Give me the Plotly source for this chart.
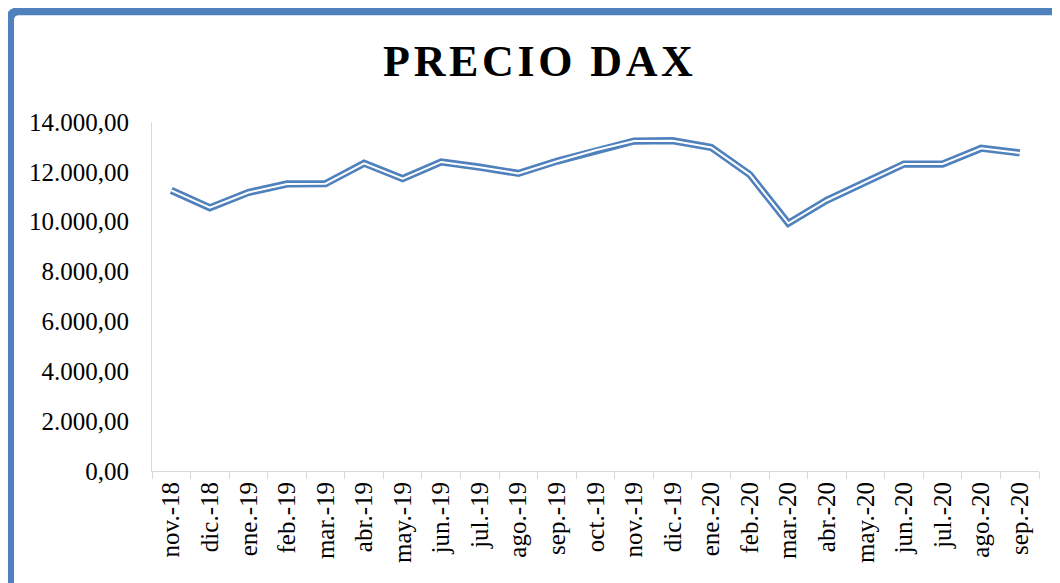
import plotly.graph_objects as go

categories = ["nov.-18", "dic.-18", "ene.-19", "feb.-19", "mar.-19", "abr.-19", "may.-19",
              "jun.-19", "jul.-19", "ago.-19", "sep.-19", "oct.-19", "nov.-19", "dic.-19",
              "ene.-20", "feb.-20", "mar.-20", "abr.-20", "may.-20", "jun.-20", "jul.-20",
              "ago.-20", "sep.-20"]
precio = [11257, 10559, 11173, 11516, 11526, 12344, 11727, 12399, 12189, 11939, 12428,
          12866, 13236, 13249, 12981, 11890, 9936, 10862, 11587, 12311, 12313, 12945, 12761]

# page body has an 8px margin: figure coordinates = screen coordinates - 8
OFF = 8
W, H = 1060, 583
L = 152 - OFF
T = 122 - OFF
R = W - (1039 - OFF)
B = H - (471 - OFF)
pw, ph = W - L - R, H - T - B
BLUE = "#4F81BD"

fig = go.Figure()
fig.add_trace(go.Scatter(x=categories, y=precio, mode="lines",
                         line=dict(color=BLUE, width=7.2), hoverinfo="skip", showlegend=False))
fig.add_trace(go.Scatter(x=categories, y=precio, mode="lines",
                         line=dict(color="white", width=2), hoverinfo="skip", showlegend=False))

def px2paper(px, py):
    # px, py in screen coordinates
    fx, fy = px - OFF, py - OFF
    return (fx - L) / pw, (H - B - fy) / ph

xl, yb = px2paper(10, 700)
_, yt = px2paper(10, 11.3)
xr, _ = px2paper(1200, 11.3)
rx = 9 / pw
ry = 9 / ph
path = f"M {xl},{yb} L {xl},{yt - ry} Q {xl},{yt} {xl + rx},{yt} L {xr},{yt}"

title_text = "\u200a".join("PRECIO") + "\u2009\u2009" + "\u200a".join("DAX")

fig.update_layout(
    width=W, height=H,
    margin=dict(l=L, r=R, t=T, b=B),
    paper_bgcolor="white", plot_bgcolor="white",
    separators=",.",
    font=dict(family="Liberation Serif", color="black", size=25),
    title=dict(text="<b>" + title_text + "</b>",
               x=(538 - OFF) / W, xanchor="center", y=1 - (61 - OFF) / H, yanchor="middle",
               font=dict(family="Liberation Serif", size=44, color="black")),
    xaxis=dict(type="category", tickson="boundaries", ticks="outside", ticklen=7,
               tickcolor="#D9D9D9", showline=True, linecolor="#D9D9D9", linewidth=1,
               showgrid=False, tickangle=-90, tickfont=dict(size=25), automargin=False,
               range=[-0.5, len(categories) - 0.5]),
    yaxis=dict(range=[0, 14000], tickvals=list(range(0, 14001, 2000)), tickformat=",.2f",
               showline=True, linecolor="#D9D9D9", linewidth=1, showgrid=False,
               zeroline=False, ticks="", ticklabelstandoff=17, tickfont=dict(size=25),
               automargin=False),
    shapes=[dict(type="path", path=path, xref="paper", yref="paper",
                 line=dict(color=BLUE, width=8), fillcolor="rgba(0,0,0,0)", layer="above")],
)

fig.write_html("out.html")
